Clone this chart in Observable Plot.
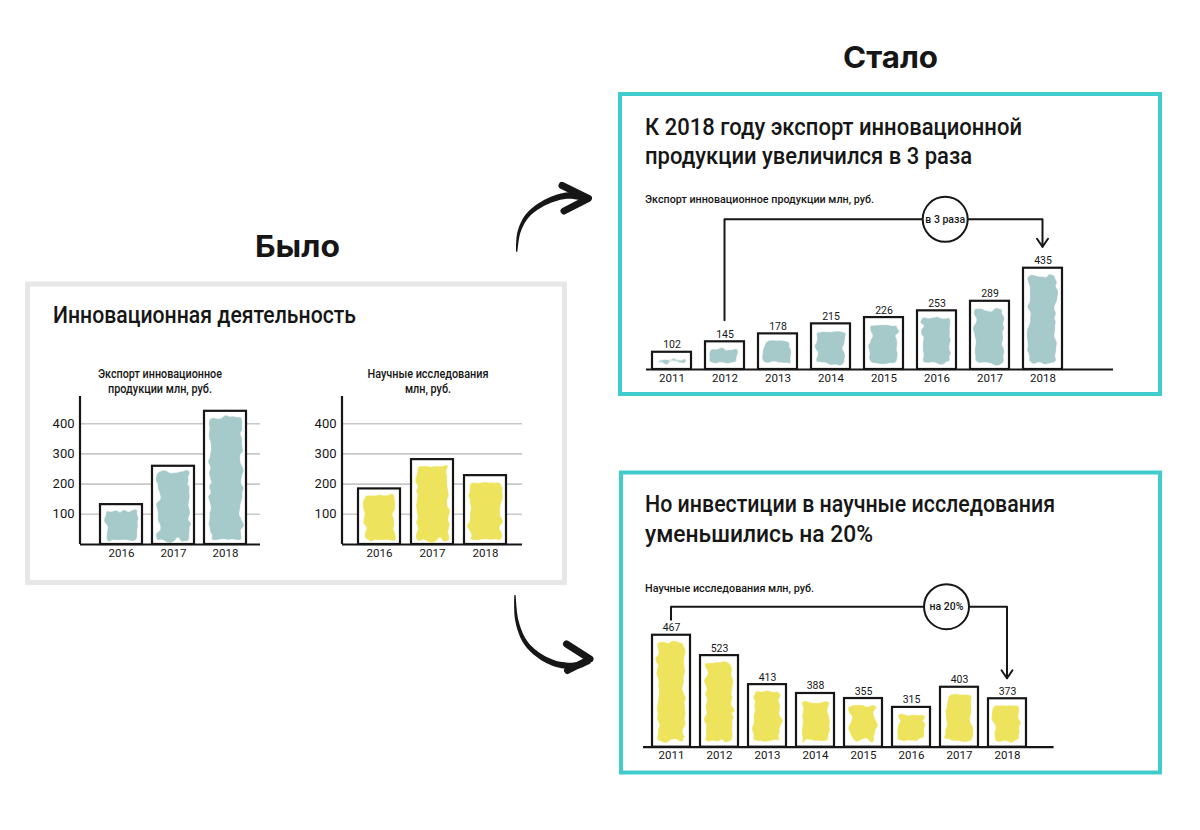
<!DOCTYPE html>
<html><head><meta charset="utf-8">
<script src="https://cdn.jsdelivr.net/npm/d3@7"></script>
<script src="https://cdn.jsdelivr.net/npm/@observablehq/plot@0.6"></script>
<style>
html,body{margin:0;padding:0;background:#fff;}
#root{position:relative;width:1200px;height:830px;overflow:hidden;background:#fff;}
</style></head>
<body><div id="root"></div>
<script>
// ---------- data ----------
const beforeYears = ["2016", "2017", "2018"];
const beforeExport = [132, 259, 441];
const beforeResearch = [184, 281, 228];
const beforeTicks = [100, 200, 300, 400];

const afterYears = ["2011", "2012", "2013", "2014", "2015", "2016", "2017", "2018"];
const exportLabels = [102, 145, 178, 215, 226, 253, 289, 435];
const exportDrawn = [74, 119, 153, 196, 223, 252, 293, 435];      // bar heights as drawn
const researchLabels = [467, 523, 413, 388, 355, 315, 403, 373];
const researchDrawn = [467, 382, 261, 224, 203, 166, 250, 202];   // bar heights as drawn

const headingBefore = "Было";
const headingAfter = "Стало";
const titleBefore = "Инновационная деятельность";
const subBeforeExport = ["Экспорт инновационное", "продукции млн, руб."];
const subBeforeResearch = ["Научные исследования", "млн, руб."];
const titleExport = ["К 2018 году экспорт инновационной", "продукции увеличился в 3 раза"];
const subExport = "Экспорт инновационное продукции млн, руб.";
const noteExport = "в 3 раза";
const titleResearch = ["Но инвестиции в научные исследования", "уменьшились на 20%"];
const subResearch = "Научные исследования млн, руб.";
const noteResearch = "на 20%";

// ---------- style ----------
const FONT = "Roboto, 'Noto Sans', 'DejaVu Sans', sans-serif";
const HEAD_FONT = "Inter, Lato, 'Noto Sans', sans-serif";
const INK = "#161616";
const TEAL = "#a6c9c9";
const YELLOW = "#eee35d";
const FRAME_TEAL = "#40cccc";
const FRAME_GRAY = "#e7e7e7";

const root = d3.select("#root");
const bg = root.append("svg").attr("width", 1200).attr("height", 830)
  .style("position", "absolute").style("left", "0px").style("top", "0px");

const defs = bg.append("defs");
const flt = defs.append("filter").attr("id", "scribble")
  .attr("x", "-20%").attr("y", "-20%").attr("width", "140%").attr("height", "140%");
flt.append("feTurbulence").attr("type", "fractalNoise").attr("baseFrequency", "0.11")
  .attr("numOctaves", 2).attr("seed", 5).attr("result", "noise");
flt.append("feDisplacementMap").attr("in", "SourceGraphic").attr("in2", "noise")
  .attr("scale", 10).attr("xChannelSelector", "R").attr("yChannelSelector", "G").attr("result", "disp");
flt.append("feGaussianBlur").attr("in", "disp").attr("stdDeviation", 1.6).attr("result", "blur");
const ct = flt.append("feComponentTransfer").attr("in", "blur");
ct.append("feFuncA").attr("type", "linear").attr("slope", 3).attr("intercept", -1);

// frames
bg.append("rect").attr("x", 27.5).attr("y", 284).attr("width", 537).attr("height", 298.5)
  .attr("fill", "none").attr("stroke", FRAME_GRAY).attr("stroke-width", 5);
bg.append("rect").attr("x", 620).attr("y", 94).attr("width", 540).attr("height", 300)
  .attr("fill", "none").attr("stroke", FRAME_TEAL).attr("stroke-width", 4);
bg.append("rect").attr("x", 621).attr("y", 472.5).attr("width", 539).attr("height", 300)
  .attr("fill", "none").attr("stroke", FRAME_TEAL).attr("stroke-width", 4);

function label(x, y, s, {size = 12, weight = 500, family = FONT, width = null, anchor = "start"} = {}) {
  const t = bg.append("text").attr("x", x).attr("y", y).attr("font-family", family)
    .attr("font-size", size).attr("font-weight", weight).attr("fill", INK)
    .attr("text-anchor", anchor).text(s);
  if (width) t.attr("textLength", width).attr("lengthAdjust", "spacingAndGlyphs");
  return t;
}

label(255, 256.7, headingBefore, {size: 30, weight: 700, family: HEAD_FONT, width: 85});
label(843, 68.3, headingAfter, {size: 30, weight: 700, family: HEAD_FONT, width: 95});

label(53, 323.3, titleBefore, {size: 23.5, width: 303});
label(160, 378.3, subBeforeExport[0], {size: 12.5, width: 124, anchor: "middle"});
label(160, 393.3, subBeforeExport[1], {size: 12.5, width: 104, anchor: "middle"});
label(428, 378.3, subBeforeResearch[0], {size: 12.5, width: 121, anchor: "middle"});
label(428, 393.3, subBeforeResearch[1], {size: 12.5, width: 46, anchor: "middle"});

label(645, 135, titleExport[0], {size: 24, width: 377});
label(645, 164, titleExport[1], {size: 24, width: 327});
label(645, 203, subExport, {size: 11, width: 229});

label(645, 511.7, titleResearch[0], {size: 24, width: 410});
label(645, 541.7, titleResearch[1], {size: 24, width: 228});
label(645, 591.7, subResearch, {size: 11, width: 169});

// brush arrows
function brushArrow(points, barbs) {
  const line = d3.line().curve(d3.curveCatmullRom.alpha(0.5));
  const tmp = bg.append("path").attr("d", line(points)).attr("fill", "none");
  const node = tmp.node(), L = node.getTotalLength();
  const N = 60, left = [], right = [];
  for (let i = 0; i <= N; i++) {
    const t = i / N;
    const p = node.getPointAtLength(t * L);
    const a = node.getPointAtLength(Math.max(0, t * L - 0.6));
    const b = node.getPointAtLength(Math.min(L, t * L + 0.6));
    let dx = b.x - a.x, dy = b.y - a.y;
    const len = Math.hypot(dx, dy) || 1; dx /= len; dy /= len;
    const w = (1.2 + 6 * Math.pow(t, 0.7)) / 2;
    left.push([p.x - dy * w, p.y + dx * w]);
    right.push([p.x + dy * w, p.y - dx * w]);
  }
  tmp.remove();
  bg.append("path")
    .attr("d", "M" + left.map(p => p.join(",")).join("L") + "L" + right.reverse().map(p => p.join(",")).join("L") + "Z")
    .attr("fill", INK);
  bg.append("path").attr("d", `M${barbs[0]}L${barbs[1]}L${barbs[2]}`)
    .attr("fill", "none").attr("stroke", INK).attr("stroke-width", 7)
    .attr("stroke-linecap", "round").attr("stroke-linejoin", "round");
}
brushArrow([[516.7, 251.7], [519, 232], [528, 215], [546.7, 201.7], [568, 195.5], [587, 198]],
  [[562, 185.5], [588.5, 198.3], [564, 211]]);
brushArrow([[515, 595], [516.7, 620], [525, 641.7], [538.3, 655], [556.7, 664], [576.7, 665.5], [589, 660]],
  [[566.5, 644], [590, 659], [567.5, 670.5]]);

// ---------- plots ----------
function place(node, left, top) {
  node.style.position = "absolute";
  node.style.left = left + "px";
  node.style.top = top + "px";
  node.style.maxWidth = "none";
  root.node().appendChild(node);
}
function styleAxis(node, axis, size) {
  d3.select(node).selectAll(`g[aria-label^="${axis}-axis"] text`).style("font-size", size + "px");
}
function scribble(node) {
  d3.select(node).selectAll('g[aria-label="bar"]').filter((d, i) => i === 1).attr("filter", "url(#scribble)");
}
const axisLine = (index, scales, values, dims) =>
  d3.create("svg:line").attr("x1", dims.marginLeft).attr("x2", dims.marginLeft)
    .attr("y1", dims.marginTop).attr("y2", dims.height - dims.marginBottom)
    .attr("stroke", INK).attr("stroke-width", 2.2).node();

function beforeChart(values, fill, range) {
  const data = beforeYears.map((year, i) => ({year, value: values[i]}));
  const chart = Plot.plot({
    width: 280, height: 198, marginTop: 20, marginBottom: 30, marginLeft: 80, marginRight: 20,
    style: {background: "transparent", fontFamily: FONT, fontSize: "13px", color: INK, overflow: "visible"},
    x: {type: "band", domain: beforeYears, range, paddingInner: 0.2, paddingOuter: 0.1, tickSize: 0, tickPadding: 4, label: null},
    y: {domain: [0, 490], ticks: beforeTicks, tickSize: 0, tickPadding: 6, label: null},
    marks: [
      Plot.ruleY(beforeTicks, {stroke: "#c8c8c8", strokeWidth: 1.6}),
      Plot.barY(data, {x: "year", y: "value", fill: "white", stroke: INK, strokeWidth: 2.2}),
      Plot.barY(data, {x: "year", y: "value", fill, insetTop: 7, insetBottom: 4, insetLeft: 6, insetRight: 5}),
      Plot.ruleY([0], {stroke: INK, strokeWidth: 2.2}),
      axisLine
    ]
  });
  styleAxis(chart, "x", 11.5);
  scribble(chart);
  return chart;
}
place(beforeChart(beforeExport, TEAL, [95, 251]), 0, 376);
place(beforeChart(beforeResearch, YELLOW, [90.5, 249.5]), 262, 376);

function bracketMark({from, fromValue, fromGap, to, toValue, toGap, level, t, note}) {
  return (index, scales) => {
    const {x, y} = scales;
    const bw = x.bandwidth ? x.bandwidth() : 0;
    const x0 = x(from) + bw / 2, x1 = x(to) + bw / 2;
    const yl = y(level), y0 = y(fromValue) - fromGap, y1 = y(toValue) - toGap;
    const g = d3.create("svg:g").attr("fill", "none").attr("stroke", INK).attr("stroke-width", 2)
      .attr("stroke-linejoin", "round").attr("stroke-linecap", "round");
    g.append("path").attr("d", `M${x0},${y0}V${yl}H${x1}V${y1}`);
    g.append("path").attr("d", `M${x1 - 5.5},${y1 - 8}L${x1},${y1}L${x1 + 5.5},${y1 - 8}`);
    const cx = x0 + t * (x1 - x0);
    g.append("circle").attr("cx", cx).attr("cy", yl).attr("r", 22.5).attr("fill", "white");
    g.append("text").attr("x", cx).attr("y", yl).attr("dy", "0.35em").attr("text-anchor", "middle")
      .attr("fill", INK).attr("stroke", "none").attr("font-size", 10.5).attr("font-weight", 500).text(note);
    return g.node();
  };
}

function afterChart({labels, drawn, level, fill, range, paddingInner, width, height, margins, bracket}) {
  const data = afterYears.map((year, i) => ({year, label: labels[i], bar: drawn[i]}));
  const chart = Plot.plot({
    width, height, ...margins,
    style: {background: "transparent", fontFamily: FONT, fontSize: "11px", color: INK, overflow: "visible"},
    x: {type: "band", domain: afterYears, range, paddingInner, paddingOuter: paddingInner / 2, tickSize: 0, tickPadding: 4, label: null},
    y: {domain: [0, level], axis: null},
    marks: [
      Plot.barY(data, {x: "year", y: "bar", fill: "white", stroke: INK, strokeWidth: 2.2}),
      Plot.barY(data, {x: "year", y: "bar", fill, insetTop: 8, insetBottom: 6, insetLeft: 6, insetRight: 6}),
      Plot.ruleY([0], {stroke: INK, strokeWidth: 2.2}),
      Plot.text(data, {x: "year", y: "bar", text: d => String(d.label), dy: -4, lineAnchor: "bottom", fontSize: 10.5, fill: INK}),
      bracketMark({...bracket, level})
    ]
  });
  styleAxis(chart, "x", 11.5);
  scribble(chart);
  return chart;
}

place(afterChart({
  labels: exportLabels, drawn: exportDrawn, level: 643, fill: TEAL,
  range: [29.4, 455.7], paddingInner: 0.26, width: 540, height: 229,
  margins: {marginTop: 49.3, marginBottom: 30, marginLeft: 31, marginRight: 42},
  bracket: {from: "2012", fromValue: exportDrawn[1], fromGap: 21, to: "2018", toValue: exportDrawn[7], toGap: 21, t: 0.694, note: noteExport}
}), 615, 170);

place(afterChart({
  labels: researchLabels, drawn: researchDrawn, level: 584, fill: YELLOW,
  range: [32, 416], paddingInner: 0.21, width: 540, height: 216.7,
  margins: {marginTop: 46.7, marginBottom: 30, marginLeft: 28, marginRight: 101.4},
  bracket: {from: "2011", fromValue: researchDrawn[0], fromGap: 15, to: "2018", toValue: researchDrawn[7], toGap: 20, t: 0.82, note: noteResearch}
}), 615, 560);
</script>
</body></html>
